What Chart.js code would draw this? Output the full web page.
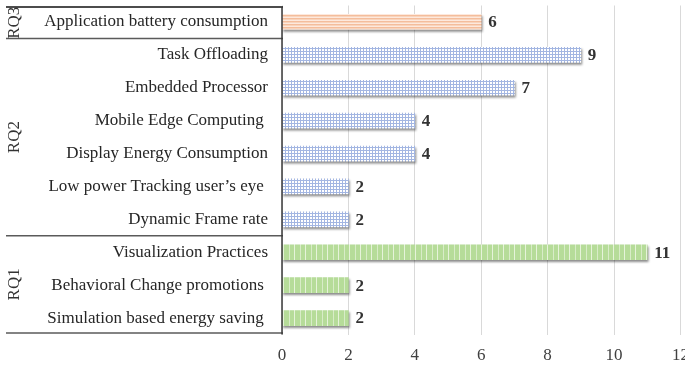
<!DOCTYPE html>
<html>
<head>
<meta charset="utf-8">
<script src="https://cdn.jsdelivr.net/npm/chart.js@4.4.1/dist/chart.umd.min.js"></script>
<style>
  html, body { margin: 0; padding: 0; background: #ffffff; overflow: hidden; }
  canvas { display: block; }
</style>
</head>
<body>
<canvas id="chart" width="685" height="365"></canvas>
<script>
// Energy-related topics grouped by research question
const categories = [
  'Application battery consumption',
  'Task Offloading',
  'Embedded Processor',
  'Mobile Edge Computing ',
  'Display Energy Consumption',
  'Low power Tracking user\u2019s eye ',
  'Dynamic Frame rate',
  'Visualization Practices',
  'Behavioral Change promotions ',
  'Simulation based energy saving '
];
const counts = [6, 9, 7, 4, 4, 2, 2, 11, 2, 2];
const groupNames = ['RQ3', 'RQ2', 'RQ1'];
const groupSizes = [1, 6, 3];
const xTicks = [0, 2, 4, 6, 8, 10, 12];

const SERIF = '"Liberation Serif", "Times New Roman", Times, serif';

// Fill patterns for each group
function makePattern(w, h, paint) {
  const c = document.createElement('canvas');
  c.width = w; c.height = h;
  const g = c.getContext('2d');
  paint(g);
  return document.getElementById('chart').getContext('2d').createPattern(c, 'repeat');
}
const orangeStripes = makePattern(1, 3, g => {
  g.fillStyle = '#f9d4bc'; g.fillRect(0, 0, 1, 3);
  g.fillStyle = '#f4bd9c'; g.fillRect(0, 0, 1, 1);
  g.fillStyle = '#fde9dd'; g.fillRect(0, 2, 1, 1);
});
const blueGrid = makePattern(3, 3, g => {
  g.fillStyle = '#ffffff'; g.fillRect(0, 0, 3, 3);
  g.fillStyle = '#a3b6e2'; g.fillRect(0, 0, 3, 1); g.fillRect(0, 0, 1, 3);
});
const greenStripes = makePattern(11, 1, g => {
  g.fillStyle = '#b6dc99'; g.fillRect(0, 0, 11, 1);
  g.fillStyle = '#d8ecc8'; g.fillRect(3, 0, 1, 1);
  g.fillStyle = '#e6f3da'; g.fillRect(8, 0, 1, 1);
});
const groupFills = { RQ3: orangeStripes, RQ2: blueGrid, RQ1: greenStripes };

const barFills = [];
groupNames.forEach((name, gi) => {
  for (let k = 0; k < groupSizes[gi]; k++) barFills.push(groupFills[name]);
});

// Soft drop shadow under bars
const barShadow = {
  id: 'barShadow',
  beforeDatasetsDraw(chart) {
    const ctx = chart.ctx;
    ctx.save();
    ctx.shadowColor = 'rgba(0,0,0,0.45)';
    ctx.shadowOffsetX = 1;
    ctx.shadowOffsetY = 2;
    ctx.shadowBlur = 2;
  },
  afterDatasetsDraw(chart) {
    chart.ctx.restore();
  }
};

// Value labels at bar ends
const valueLabels = {
  id: 'valueLabels',
  afterDatasetsDraw(chart) {
    const ctx = chart.ctx;
    const meta = chart.getDatasetMeta(0);
    ctx.save();
    ctx.font = 'bold 17px ' + SERIF;
    ctx.fillStyle = '#333333';
    ctx.textAlign = 'left';
    ctx.textBaseline = 'middle';
    meta.data.forEach((bar, i) => {
      ctx.fillText(String(counts[i]), bar.x + 7, bar.y + 1);
    });
    ctx.restore();
  }
};

// Group table: separator rules, axis rule and rotated RQ captions
const groupTable = {
  id: 'groupTable',
  afterDraw(chart) {
    const ctx = chart.ctx;
    const y = chart.scales.y;
    const area = chart.chartArea;
    const left = 6;
    const right = area.left;

    const bounds = [-0.5];
    let idx = -0.5;
    groupSizes.forEach(n => { idx += n; bounds.push(idx); });
    const ys = bounds.map(b => y.getPixelForValue(b));
    ys[0] += 1.5;
    ys[ys.length - 1] -= 1.5;

    ctx.save();
    ctx.lineWidth = 1.5;
    ys.forEach((py, i) => {
      ctx.strokeStyle = i === 0 ? '#111111' : '#5a5a5a';
      ctx.beginPath();
      ctx.moveTo(left, py);
      ctx.lineTo(right + 1, py);
      ctx.stroke();
    });

    ctx.strokeStyle = '#3a3a3a';
    ctx.beginPath();
    ctx.moveTo(area.left, ys[0]);
    ctx.lineTo(area.left, area.bottom);
    ctx.stroke();

    ctx.font = '17px ' + SERIF;
    ctx.fillStyle = '#333333';
    ctx.textAlign = 'center';
    ctx.textBaseline = 'middle';
    groupNames.forEach((name, i) => {
      const cy = (ys[i] + ys[i + 1]) / 2;
      ctx.save();
      ctx.translate(15, cy);
      ctx.rotate(-Math.PI / 2);
      ctx.fillText(name, 0, 0);
      ctx.restore();
    });
    ctx.restore();
  }
};

new Chart(document.getElementById('chart'), {
  type: 'bar',
  data: {
    labels: categories,
    datasets: [{
      data: counts,
      backgroundColor: barFills,
      borderWidth: 0,
      barThickness: 15
    }]
  },
  options: {
    indexAxis: 'y',
    responsive: false,
    devicePixelRatio: 1,
    animation: false,
    layout: { padding: { top: 5.5, right: 4.6, left: 0, bottom: 0 } },
    plugins: {
      legend: { display: false },
      tooltip: { enabled: false }
    },
    scales: {
      x: {
        min: xTicks[0],
        max: xTicks[xTicks.length - 1],
        afterBuildTicks(s) { s.ticks = xTicks.map(v => ({ value: v })); },
        ticks: {
          font: { family: SERIF, size: 17 },
          color: '#404040',
          padding: 11,
          maxRotation: 0
        },
        grid: { color: '#d9d9d9', lineWidth: 1, drawTicks: false },
        border: { display: false },
        afterFit(s) { s.height = 30.5; s.paddingLeft = 0; s.paddingRight = 0; }
      },
      y: {
        ticks: {
          font: { family: SERIF, size: 17 },
          color: '#262626',
          padding: 14,
          autoSkip: false
        },
        grid: { display: false, drawTicks: false },
        border: { display: false },
        afterFit(s) { s.width = 282; s.paddingTop = 0; s.paddingBottom = 0; }
      }
    }
  },
  plugins: [barShadow, valueLabels, groupTable]
});
</script>
</body>
</html>
